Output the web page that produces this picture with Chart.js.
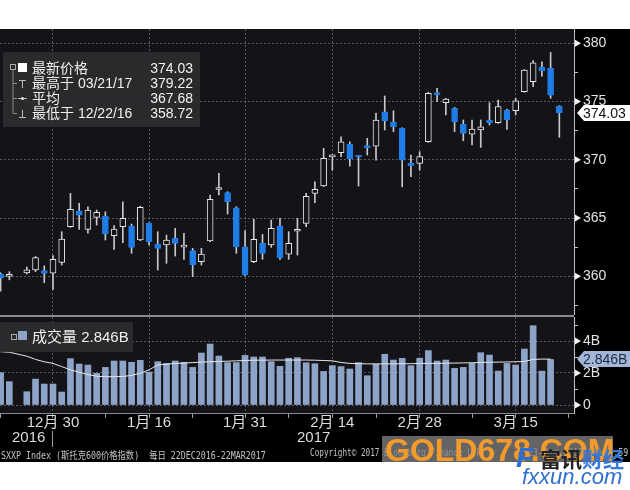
<!DOCTYPE html>
<html>
<head>
<meta charset="utf-8">
<script src="https://cdn.jsdelivr.net/npm/chart.js@4.4.1/dist/chart.umd.min.js"></script>
<style>
  body { margin: 0; background: #fff; width: 630px; height: 490px; overflow: hidden; position: relative;
         font-family: 'Liberation Sans', 'Noto Sans CJK SC', sans-serif; }
  .abs { position: absolute; white-space: pre; }
  #frame { position: absolute; left: 0; top: 29px; width: 630px; height: 433px; background: #000; }
  canvas { position: absolute; left: 0; }
  .box { position: absolute; background: rgba(44, 44, 48, 0.92); }
  .row { position: absolute; height: 16px; line-height: 16px; font-size: 14px; color: #f0f0f0; }
</style>
</head>
<body>
<div id="frame"></div>
<canvas id="priceChart" width="630" height="286" style="top:29px"></canvas>
<div class="abs" style="left:0;top:315px;width:574px;height:2px;background:#8c8c8c"></div>
<canvas id="volumeChart" width="630" height="145" style="top:317px"></canvas>

<div class="box" style="left:3px;top:52px;width:197px;height:75px"></div>
<div class="box" style="left:0;top:322px;width:133px;height:30px"></div>
<svg class="abs" style="left:0;top:0" width="630" height="490">
  <rect x="10.5" y="64.5" width="5" height="5" fill="none" stroke="#aaa"/>
  <rect x="18" y="63" width="9" height="9" fill="#fff"/>
  <path d="M13 70V113.5M13 83.5H17M13 98.5H17M13 113.5H17" stroke="#888" fill="none"/>
  <path d="M19 80.5H26M22.5 80.5V88" stroke="#bbb" fill="none"/>
  <path d="M18 98.5H27" stroke="#bbb" fill="none"/><circle cx="22.5" cy="98.5" r="1.6" fill="#ddd"/>
  <path d="M19 117.5H26M22.5 110V117.5" stroke="#bbb" fill="none"/>
  <rect x="11.5" y="334.5" width="5" height="5" fill="none" stroke="#aaa"/>
  <rect x="18" y="331" width="9" height="9" fill="#8da4c8"/>
  <path d="M52.5 431V447" stroke="#999"/>
</svg>
<div class="row" style="left:32px;top:60px">最新价格</div>
<div class="row" style="left:32px;top:75px">最高于 03/21/17</div>
<div class="row" style="left:32px;top:90px">平均</div>
<div class="row" style="left:32px;top:105px">最低于 12/22/16</div>
<div class="row" style="left:120px;top:60px;width:73px;text-align:right">374.03</div>
<div class="row" style="left:120px;top:75px;width:73px;text-align:right">379.22</div>
<div class="row" style="left:120px;top:90px;width:73px;text-align:right">367.68</div>
<div class="row" style="left:120px;top:105px;width:73px;text-align:right">358.72</div>
<div class="row" style="left:32px;top:329px;font-size:15px">成交量 2.846B</div>

<div class="row" style="left:12px;top:429px;font-size:15px;color:#dcdcdc">2016</div>
<div class="row" style="left:297px;top:429px;font-size:15px;color:#dcdcdc">2017</div>
<div class="abs fit" data-w="265" style="left:1px;top:447px;font:10px 'DejaVu Sans Mono','Noto Sans CJK SC';color:#c4c4c4">SXXP Index (斯托克600价格指数)  每日 22DEC2016-22MAR2017</div>
<div class="abs fit" data-w="176" style="left:310px;top:447px;font:10px 'DejaVu Sans Mono';color:#c4c4c4">Copyright© 2017 Bloomberg Finance L.P.</div>
<div class="abs fit" data-w="100" style="left:528px;top:447px;font:10px 'DejaVu Sans Mono';color:#c4c4c4">23-Mar-2017 08:59:59</div>

<div class="abs" style="left:382px;top:436px;width:231px;height:26px;overflow:hidden;background:rgba(128,128,128,0.78)">
  <div class="abs" style="left:3px;top:-3px;font:bold 32px 'Liberation Sans';color:#f29b2c;line-height:34px">GOLD678.COM</div>
</div>
<div class="abs" style="left:516px;top:443px;font:italic bold 28px 'Liberation Sans';color:#2d6fd2;line-height:30px">F</div>
<div class="abs" style="left:540px;top:446px;font:bold 21px 'Noto Sans CJK SC';line-height:24px"><span style="color:#222">富讯</span><span style="color:#3a78d8">财经</span></div>
<div class="abs" style="left:522px;top:465px;font:italic 22px 'Liberation Sans';color:#2f6fd0;line-height:24px">fxxun.com</div>

<script>
const days = [
  '12/22', '12/23', '12/26', '12/27', '12/28', '12/29', '12/30',
  '1/2', '1/3', '1/4', '1/5', '1/6', '1/9', '1/10', '1/11', '1/12', '1/13',
  '1/16', '1/17', '1/18', '1/19', '1/20', '1/23', '1/24', '1/25', '1/26', '1/27', '1/30', '1/31',
  '2/1', '2/2', '2/3', '2/6', '2/7', '2/8', '2/9', '2/10', '2/13', '2/14', '2/15', '2/16', '2/17',
  '2/20', '2/21', '2/22', '2/23', '2/24', '2/27', '2/28',
  '3/1', '3/2', '3/3', '3/6', '3/7', '3/8', '3/9', '3/10', '3/13', '3/14', '3/15', '3/16', '3/17',
  '3/20', '3/21', '3/22'
];
const opens = [
  360.2, 360.0, null, 360.3, 360.55, 360.5, 360.26,
  361.2, 364.26, 365.63, 364.03, 365.06, 365.18, 363.49, 364.26, 364.32, 363.12,
  364.55, 362.75, 362.69, 363.26, 362.5, 362.2, 361.25, 363.03, 367.45, 367.18, 365.89, 362.54,
  361.25, 362.83, 362.69, 364.34, 361.91, 363.87, 364.55, 367.12, 367.75, 370.25, 370.61, 371.36, 370.32,
  371.2, 371.18, 374.13, 373.22, 372.7, 369.7, 369.7,
  371.55, 375.7, 374.9, 374.42, 373.07, 372.21, 372.56, 373.42, 373.18, 374.27, 374.21, 375.85, 376.7,
  377.94, 377.85, 374.62
];
const highs = [
  360.3, 360.4, null, 360.8, 361.7, 360.9, 361.77,
  363.83, 367.12, 366.27, 365.97, 365.69, 365.54, 364.35, 366.4, 364.49, 366.03,
  364.6, 363.83, 363.54, 364.12, 363.69, 362.4, 362.4, 366.98, 368.84, 367.26, 365.97, 363.91,
  364.89, 363.6, 364.83, 364.98, 363.83, 364.98, 367.12, 368.12, 370.99, 370.45, 371.98, 371.55, 370.35,
  371.85, 373.99, 375.48, 374.21, 372.75, 370.41, 370.7,
  375.8, 376.14, 375.28, 374.5, 373.42, 373.42, 373.42, 374.9, 375.13, 374.36, 375.28, 377.75, 378.51,
  378.42, 379.22, 374.65
];
const lows = [
  358.72, 359.7, null, 360.2, 360.4, 359.45, 358.88,
  360.97, 364.2, 364.03, 363.7, 364.4, 363.12, 362.32, 362.88, 361.97, 363.06,
  362.7, 360.54, 361.12, 361.74, 361.46, 359.97, 360.97, 362.97, 366.98, 365.35, 361.97, 360.05,
  361.17, 361.46, 362.49, 361.46, 361.46, 361.83, 364.26, 366.32, 367.7, 369.1, 370.27, 369.47, 367.75,
  370.41, 369.98, 372.56, 372.41, 367.69, 368.55, 369.12,
  371.5, 374.99, 373.85, 372.41, 371.64, 371.27, 371.07, 372.99, 373.13, 372.62, 373.85, 375.8, 376.27,
  377.19, 375.28, 371.93
];
const closes = [
  359.85, 360.05, null, 360.55, 361.6, 360.25, 361.46,
  363.2, 365.75, 365.26, 365.69, 365.49, 363.63, 364.06, 364.98, 362.49, 365.92,
  362.97, 362.4, 363.12, 362.83, 362.55, 360.97, 361.91, 366.61, 367.5, 366.4, 362.54, 360.11,
  363.18, 361.97, 364.12, 361.6, 362.83, 363.9, 366.87, 367.47, 370.13, 370.3, 371.55, 370.07, 370.22,
  371.05, 373.42, 373.33, 372.84, 369.98, 369.47, 370.27,
  375.71, 375.6, 375.22, 373.27, 372.27, 372.64, 372.84, 373.18, 374.56, 373.42, 375.07, 377.71, 378.33,
  377.65, 375.56, 374.03
];
// billions
const volumes = [
  2.02, 1.46, null, 0.83, 1.62, 1.31, 1.31,
  0.81, 2.9, 2.56, 2.5, 1.98, 2.35, 2.75, 2.75, 2.67, 2.79,
  2.06, 2.71, 2.6, 2.75, 2.67, 2.35, 3.25, 3.81, 3.06, 2.65, 2.65, 3.1,
  3.0, 3.0, 2.71, 2.42, 2.92, 2.96, 2.64, 2.58, 2.1, 2.46, 2.4, 2.25, 2.65,
  1.83, 2.54, 3.17, 2.81, 2.92, 2.46, 2.92,
  3.4, 2.75, 2.81, 2.29, 2.35, 2.6, 3.27, 3.12, 2.12, 2.6, 2.5, 3.5, 4.96,
  2.12, 2.846, null
];
const volumeAvg = [
  3.33, 3.3, null, 3.05, 2.85, 2.7, 2.6,
  2.4, 2.2, 2.05, 1.9, 1.8, 1.77, 1.77, 1.78, 1.85, 1.98,
  2.2, 2.5, 2.55, 2.6, 2.62, 2.65, 2.68, 2.7, 2.72, 2.74, 2.76, 2.78,
  2.8, 2.8, 2.81, 2.81, 2.81, 2.81, 2.81, 2.8, 2.78, 2.76, 2.66, 2.6, 2.58,
  2.57, 2.57, 2.57, 2.57, 2.58, 2.58, 2.6,
  2.6, 2.6, 2.61, 2.62, 2.63, 2.64, 2.66, 2.67, 2.68, 2.69, 2.7, 2.72, 2.85,
  2.87, 2.87, null
];
const priceTicks = [357.5, 360, 362.5, 365, 367.5, 370, 372.5, 375, 377.5, 380];
const priceLabels = ['', '360', '', '365', '', '370', '', '375', '', '380'];
const volumeTicks = [0, 1, 2, 3, 4, 5];
const volumeLabels = ['0', '', '2B', '', '4B', ''];
const majorDays = ['12/30', '1/16', '1/31', '2/14', '2/28', '3/15'];
const majorLabels = ['12月 30', '1月 16', '1月 31', '2月 14', '2月 28', '3月 15'];
const minorDays = ['12/22', '1/9', '1/23', '2/7', '2/21', '3/8'];

const plotBg = '#131318';
const downBlue = '#1e7de6';
const gridCol = 'rgba(150,150,160,0.55)';
Chart.defaults.font.family = "'Liberation Sans', 'Noto Sans CJK SC', sans-serif";

const majorIdx = majorDays.map(d => days.indexOf(d));
const minorIdx = minorDays.map(d => days.indexOf(d)).concat([days.length]);
const xTicks = majorIdx.concat(minorIdx).sort((a, b) => a - b);
const isMajorX = v => majorIdx.includes(v);

const wicks = [], bodies = [], bodyFill = [], bodyLine = [], volBars = [], avgLine = [];
days.forEach((d, i) => {
  if (opens[i] != null) {
    wicks.push({ x: i, y: [lows[i], highs[i]] });
    bodies.push({ x: i, y: [opens[i], closes[i]] });
    const up = closes[i] >= opens[i];
    bodyFill.push(up ? plotBg : downBlue);
    bodyLine.push(up ? '#e6e6e6' : downBlue);
  }
  if (volumes[i] != null) volBars.push({ x: i, y: volumes[i] });
  avgLine.push({ x: i, y: volumeAvg[i] });
});

// keep the plot area flush with the canvas edges
const noPad = s => { s.paddingTop = 0; s.paddingBottom = 0; s.paddingLeft = 0; s.paddingRight = 0; };

function axisDecor(valueText, value, majors, boxFill, textColor) {
  return {
    id: 'axisDecor',
    beforeDraw(chart) {
      const { ctx, chartArea: a } = chart;
      ctx.save();
      ctx.fillStyle = plotBg;
      ctx.fillRect(a.left, a.top, a.right - a.left, a.bottom - a.top);
      ctx.restore();
    },
    afterDraw(chart) {
      const { ctx } = chart;
      const y = chart.scales.y;
      ctx.save();
      ctx.fillStyle = '#f2f2f2';
      majors.forEach(v => {
        const p = y.getPixelForValue(v);
        ctx.beginPath();
        ctx.moveTo(y.left + 1, p - 3.5);
        ctx.lineTo(y.left + 7, p);
        ctx.lineTo(y.left + 1, p + 3.5);
        ctx.fill();
      });
      const p = Math.round(y.getPixelForValue(value));
      ctx.fillStyle = boxFill;
      ctx.beginPath();
      ctx.moveTo(y.left + 3, p);
      ctx.lineTo(y.left + 10, p - 8);
      ctx.lineTo(chart.width, p - 8);
      ctx.lineTo(chart.width, p + 8);
      ctx.lineTo(y.left + 10, p + 8);
      ctx.closePath();
      ctx.fill();
      ctx.fillStyle = textColor;
      ctx.font = "14px 'Liberation Sans'";
      ctx.textBaseline = 'middle';
      ctx.fillText(valueText, y.left + 9, p + 1);
      ctx.restore();
    }
  };
}

const xRange = { type: 'linear', min: -0.07, max: 65.68, offset: false, bounds: 'data',
  afterBuildTicks: s => { s.ticks = xTicks.map(v => ({ value: v })); } };

new Chart(document.getElementById('priceChart'), {
  type: 'bar',
  data: {
    datasets: [
      { data: wicks, backgroundColor: '#c8c8c8', barThickness: 1, grouped: false, order: 2 },
      { data: bodies, backgroundColor: bodyFill, borderColor: bodyLine, borderWidth: 1, borderSkipped: false,
        barThickness: 6, minBarLength: 2, grouped: false, order: 1 }
    ]
  },
  options: {
    responsive: false, animation: false,
    layout: { padding: 0 },
    plugins: { legend: { display: false }, tooltip: { enabled: false } },
    scales: {
      x: { ...xRange,
        afterFit: s => { s.height = 0; noPad(s); },
        ticks: { display: false },
        grid: { drawTicks: false, offset: false, color: c => isMajorX(c.tick && c.tick.value) ? gridCol : 'transparent' },
        border: { display: false, dash: [2, 2] } },
      y: { position: 'right', min: 356.68, max: 381.23, bounds: 'data',
        afterBuildTicks: s => { s.ticks = priceTicks.map(v => ({ value: v })); },
        afterFit: s => { s.width = 56; noPad(s); },
        ticks: { callback: (v, i) => priceLabels[i], color: '#e2e2e2', font: { size: 14 }, padding: 5, autoSkip: false },
        grid: { color: c => priceLabels[c.index] ? gridCol : 'transparent',
                tickColor: c => priceLabels[c.index] ? 'transparent' : '#c0c0c0', tickLength: 4 },
        border: { color: '#bdbdbd', dash: [2, 2] } }
    }
  },
  plugins: [axisDecor('374.03', closes[closes.length - 1], [360, 365, 370, 375, 380], '#ffffff', '#111')]
});

new Chart(document.getElementById('volumeChart'), {
  type: 'bar',
  data: {
    datasets: [
      { type: 'line', data: avgLine, borderColor: '#e8e8e8', borderWidth: 1, pointRadius: 0, spanGaps: true, order: 1 },
      { data: volBars, backgroundColor: '#8da4c8', barThickness: 6, grouped: false, order: 2 }
    ]
  },
  options: {
    responsive: false, animation: false,
    layout: { padding: 0 },
    plugins: { legend: { display: false }, tooltip: { enabled: false } },
    scales: {
      x: { ...xRange,
        afterFit: s => { s.height = 49; noPad(s); },
        ticks: { callback: v => isMajorX(v) ? majorLabels[majorIdx.indexOf(v)] : '', color: '#dcdcdc',
                 font: { size: 15 }, padding: -4, autoSkip: false, maxRotation: 0 },
        grid: { offset: false, color: c => isMajorX(c.tick && c.tick.value) ? gridCol : 'transparent',
                tickColor: '#9a9a9a', tickLength: 5 },
        border: { color: '#8a8a8a', dash: [2, 2] } },
      y: { position: 'right', min: -0.5, max: 5.5, bounds: 'data',
        afterBuildTicks: s => { s.ticks = volumeTicks.map(v => ({ value: v })); },
        afterFit: s => { s.width = 56; noPad(s); },
        ticks: { callback: (v, i) => volumeLabels[i], color: '#e2e2e2', font: { size: 14 }, padding: 5, autoSkip: false },
        grid: { color: c => volumeLabels[c.index] ? gridCol : 'transparent',
                tickColor: c => volumeLabels[c.index] ? 'transparent' : '#c0c0c0', tickLength: 4 },
        border: { color: '#bdbdbd', dash: [2, 2] } }
    }
  },
  plugins: [axisDecor('2.846B', 2.846, [0, 2, 4], '#a3b6d6', '#1c2b45')]
});

document.querySelectorAll('.fit').forEach(el => {
  const k = Number(el.dataset.w) / el.offsetWidth;
  el.style.transformOrigin = '0 0';
  el.style.transform = 'scaleX(' + k + ')';
});
</script>
</body>
</html>
